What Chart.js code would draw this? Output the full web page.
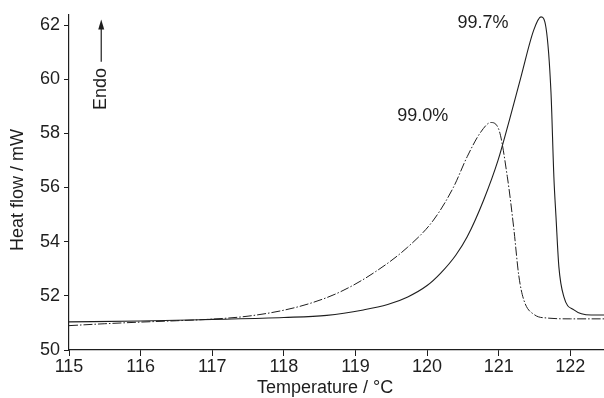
<!DOCTYPE html>
<html>
<head>
<meta charset="utf-8">
<script src="https://cdn.jsdelivr.net/npm/chart.js@4/dist/chart.umd.min.js"></script>
<style>
  html, body { margin: 0; padding: 0; background: #fff; }
  #wrap { width: 604px; height: 398px; position: relative; }
</style>
</head>
<body>
<div id="wrap"><canvas id="dscChart"></canvas></div>
<script>
// 99.0 % sample (dash-dot curve)
const temp990 = [115.0, 115.5, 116.0, 116.5, 117.0, 117.5, 118.0, 118.4, 118.79, 119.25, 119.73, 120.09, 120.37, 120.56, 120.75, 120.89, 121.0, 121.12, 121.21, 121.28, 121.35, 121.5, 121.68, 122.0, 122.47];
const flow990 = [50.9, 50.97, 51.03, 51.08, 51.14, 51.25, 51.47, 51.75, 52.15, 52.84, 53.8, 54.8, 56.02, 57.14, 58.05, 58.4, 58.15, 56.4, 54.5, 52.75, 51.85, 51.3, 51.18, 51.15, 51.15];

// 99.7 % sample (solid curve)
const temp997 = [115.0, 116.0, 117.0, 118.0, 118.6, 119.11, 119.45, 119.73, 120.0, 120.19, 120.4, 120.56, 120.79, 120.99, 121.15, 121.31, 121.49, 121.59, 121.66, 121.73, 121.77, 121.8, 121.84, 121.91, 122.05, 122.29, 122.47];
const flow997 = [51.04, 51.07, 51.13, 51.2, 51.28, 51.48, 51.68, 51.96, 52.38, 52.84, 53.5, 54.18, 55.54, 57.0, 58.5, 60.08, 61.82, 62.3, 61.9, 59.5, 56.4, 54.9, 53.07, 51.96, 51.48, 51.29, 51.29];

const xTicks = [115, 116, 117, 118, 119, 120, 121, 122];
const yTicks = [50, 52, 54, 56, 58, 60, 62];

// curve labels, anchored in data units
const curveLabels = ['99.0%', '99.7%'];
const curveLabelX = [119.94, 120.78];
const curveLabelY = [58.64, 62.09];

const toPoints = (xs, ys) => xs.map((x, i) => ({x: x, y: ys[i]}));
const ink = '#1e1e1e';
const fontFam = '"Liberation Sans", Arial, Helvetica, sans-serif';

const notes = {
    id: 'notes',
    afterDraw(chart) {
        const ctx = chart.ctx;
        const xs = chart.scales.x, ys = chart.scales.y;
        ctx.save();
        ctx.fillStyle = ink;
        ctx.strokeStyle = ink;
        ctx.font = '18px ' + fontFam;
        ctx.textAlign = 'center';
        ctx.textBaseline = 'middle';
        curveLabels.forEach((t, i) => {
            ctx.fillText(t, xs.getPixelForValue(curveLabelX[i]), ys.getPixelForValue(curveLabelY[i]));
        });

        // Endo arrow
        const ax = xs.getPixelForValue(115.45);
        const tip = ys.getPixelForValue(62.2);
        const tail = ys.getPixelForValue(60.64);
        ctx.lineWidth = 1.2;
        ctx.beginPath();
        ctx.moveTo(ax, tail);
        ctx.lineTo(ax, tip + 6);
        ctx.stroke();
        ctx.beginPath();
        ctx.moveTo(ax, tip);
        ctx.lineTo(ax - 3, tip + 10);
        ctx.lineTo(ax + 3, tip + 10);
        ctx.closePath();
        ctx.fill();
        ctx.translate(ax, ys.getPixelForValue(59.64));
        ctx.rotate(-Math.PI / 2);
        ctx.fillText('Endo', 0, 0);
        ctx.restore();

        // axis titles
        ctx.save();
        ctx.fillStyle = ink;
        ctx.font = '18px ' + fontFam;
        ctx.textAlign = 'center';
        ctx.textBaseline = 'middle';
        ctx.fillText('Temperature / \u00B0C', 325, 388);
        ctx.translate(18, 190);
        ctx.rotate(-Math.PI / 2);
        ctx.fillText('Heat flow / mW', 0, 0);
        ctx.restore();
    }
};

new Chart(document.getElementById('dscChart'), {
    type: 'line',
    data: {
        datasets: [
            {
                label: '99.0%',
                data: toPoints(temp990, flow990),
                borderColor: ink,
                borderWidth: 1,
                borderDash: [9, 2, 1.5, 2],
                pointRadius: 0,
                cubicInterpolationMode: 'monotone'
            },
            {
                label: '99.7%',
                data: toPoints(temp997, flow997),
                borderColor: ink,
                borderWidth: 1.1,
                pointRadius: 0,
                cubicInterpolationMode: 'monotone'
            }
        ]
    },
    options: {
        responsive: true,
        maintainAspectRatio: false,
        animation: false,
        layout: {padding: {top: 15, right: 0, left: 0, bottom: 0}},
        plugins: {legend: {display: false}, tooltip: {enabled: false}},
        scales: {
            x: {
                type: 'linear',
                min: 115,
                max: 122.47,
                afterFit: s => { s.height = 48; },
                afterBuildTicks: s => { s.ticks = xTicks.map(v => ({value: v})); },
                ticks: {color: ink, font: {size: 18, family: fontFam}, padding: 0, maxRotation: 0},
                grid: {drawOnChartArea: false, tickLength: 6, color: ink},
                border: {color: ink, width: 1.2}
            },
            y: {
                min: 50,
                max: 62.37,
                afterFit: s => { s.width = 69; },
                afterBuildTicks: s => { s.ticks = yTicks.map(v => ({value: v})); },
                ticks: {color: ink, font: {size: 18, family: fontFam}, padding: 4},
                grid: {drawOnChartArea: false, tickLength: 5, color: ink},
                border: {color: ink, width: 1.2}
            }
        }
    },
    plugins: [notes]
});
</script>
</body>
</html>
